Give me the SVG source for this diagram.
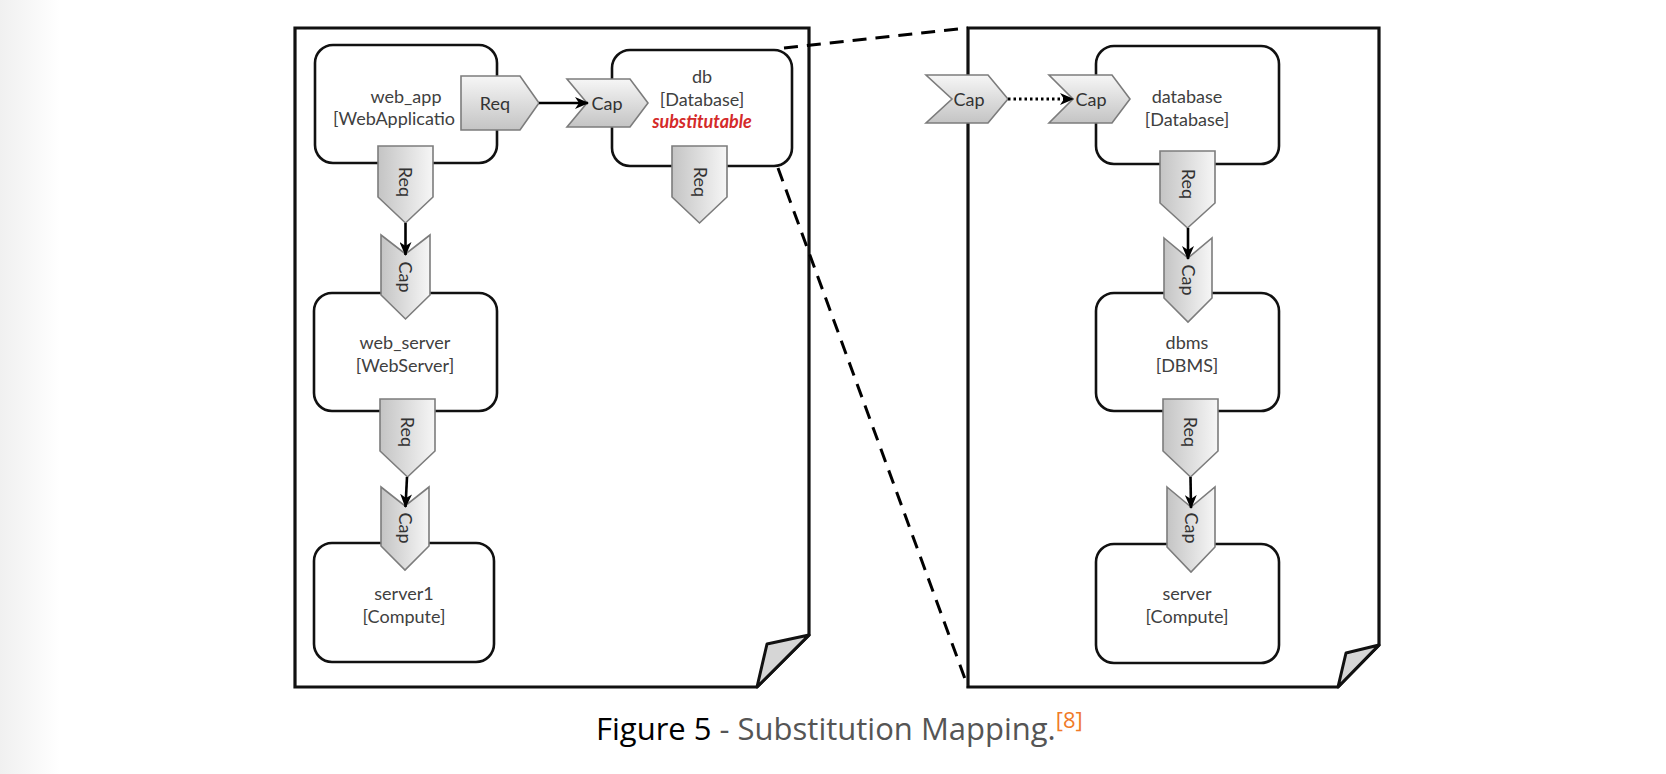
<svg xmlns="http://www.w3.org/2000/svg" width="1666" height="774" viewBox="0 0 1666 774">
<defs>
  <linearGradient id="bg" x1="0" y1="0" x2="1" y2="0">
    <stop offset="0" stop-color="#f0f0f0"/>
    <stop offset="1" stop-color="#ffffff"/>
  </linearGradient>
  <linearGradient id="gh" x1="0" y1="0" x2="0" y2="1">
    <stop offset="0" stop-color="#f6f6f6"/>
    <stop offset="1" stop-color="#c4c4c4"/>
  </linearGradient>
  <linearGradient id="gv" x1="1" y1="0" x2="0" y2="0">
    <stop offset="0" stop-color="#f6f6f6"/>
    <stop offset="1" stop-color="#c4c4c4"/>
  </linearGradient>
  <marker id="ah" viewBox="0 0 14 12" refX="13" refY="6" markerWidth="14" markerHeight="12" markerUnits="userSpaceOnUse" orient="auto">
    <path d="M0,0 L14,6 L0,12 L4,6 z" fill="#000"/>
  </marker>
</defs>
<style>
  .page{fill:#fff;stroke:#111;stroke-width:3.2;stroke-linejoin:miter}
  .flap{fill:#d6d6d6;stroke:#111;stroke-width:3;stroke-linejoin:round}
  .node{fill:#fff;stroke:#111;stroke-width:2.6}
  .ph{fill:url(#gh);stroke:#7c7c7c;stroke-width:1.6}
  .pv{fill:url(#gv);stroke:#7c7c7c;stroke-width:1.6}
  .t{font-family:Lato,"Liberation Sans",sans-serif;font-size:18px;fill:#404040;text-anchor:middle}
  .lbl{font-family:Lato,"Liberation Sans",sans-serif;font-size:18px;fill:#333;text-anchor:middle}
  .sub{fill:#d42a2a;font-weight:bold;font-style:italic}
  .conn{stroke:#000;stroke-width:2.6;fill:none}
  .dot{stroke:#000;stroke-width:2.8;fill:none;stroke-dasharray:2.5 3}
  .dash{stroke:#000;stroke-width:3;stroke-dasharray:14 9;fill:none}
  .cap{font-family:"Open Sans","Liberation Sans",sans-serif;font-size:31px}
</style>
<rect x="0" y="0" width="1666" height="774" fill="#fff"/>
<rect x="0" y="0" width="60" height="774" fill="url(#bg)"/>

<g id="page-left">
  <path class="page" d="M295,28 H809 V635 L757,687 H295 Z"/>
  <path class="flap" d="M809,635 L767,644 L757,687 Z"/>
</g>
<g id="page-right">
  <path class="page" d="M968,28 H1379 V645 L1338,687 H968 Z"/>
  <path class="flap" d="M1379,645 L1346,653 L1338,687 Z"/>
</g>

<g id="mapping-lines">
  <line class="dash" x1="784" y1="48" x2="968" y2="28"/>
  <line class="dash" x1="778" y1="168" x2="968" y2="687"/>
</g>

<g id="web_app">
  <rect class="node" x="315" y="45" width="182" height="118" rx="18"/>
  <text class="t" x="406" y="103">web_app</text>
  <text class="t" x="333" y="125" style="text-anchor:start">[WebApplicatio</text>
  <path class="ph" d="M461,76 H520 L539,103 L520,130 H461 Z"/>
  <text class="lbl" x="495" y="110">Req</text>
  <path class="pv" d="M378,146 H433 V197 L405.5,223 L378,197 Z"/>
  <text class="lbl" transform="translate(405,182) rotate(90)" x="0" y="6">Req</text>
</g>

<g id="db">
  <rect class="node" x="612" y="50" width="180" height="116" rx="18"/>
  <text class="t" x="702" y="83">db</text>
  <text class="t" x="702" y="106">[Database]</text>
  <text class="t sub" x="702" y="128">substitutable</text>
  <path class="ph" d="M567,79 H630 L648,103 L630,127 H567 L587,103 Z"/>
  <text class="lbl" x="607" y="110">Cap</text>
  <path class="pv" d="M672,146 H727 V197 L699.5,223 L672,197 Z"/>
  <text class="lbl" transform="translate(700,182) rotate(90)" x="0" y="6">Req</text>
</g>

<g id="web_server">
  <rect class="node" x="314" y="293" width="183" height="118" rx="18"/>
  <text class="t" x="405" y="349">web_server</text>
  <text class="t" x="405" y="372">[WebServer]</text>
  <path class="pv" d="M381,235 L405.5,254 L430,235 V295 L405.5,319 L381,295 Z"/>
  <text class="lbl" transform="translate(405,277) rotate(90)" x="0" y="6">Cap</text>
  <path class="pv" d="M380,399 H435 V451 L407.5,477 L380,451 Z"/>
  <text class="lbl" transform="translate(407,432) rotate(90)" x="0" y="6">Req</text>
</g>

<g id="server1">
  <rect class="node" x="314" y="543" width="180" height="119" rx="18"/>
  <text class="t" x="404" y="600">server1</text>
  <text class="t" x="404" y="623">[Compute]</text>
  <path class="pv" d="M381,487 L405,506 L429,487 V546 L405,570 L381,546 Z"/>
  <text class="lbl" transform="translate(405,528) rotate(90)" x="0" y="6">Cap</text>
</g>

<g id="database">
  <rect class="node" x="1096" y="46" width="183" height="118" rx="18"/>
  <text class="t" x="1187" y="103">database</text>
  <text class="t" x="1187" y="126">[Database]</text>
  <path class="ph" d="M1049,75 H1112 L1130,99 L1112,123 H1049 L1073,99 Z"/>
  <text class="lbl" x="1091" y="106">Cap</text>
  <path class="pv" d="M1160,151 H1215 V203 L1187.5,228 L1160,203 Z"/>
  <text class="lbl" transform="translate(1188,184) rotate(90)" x="0" y="6">Req</text>
</g>

<g id="substitution-cap">
  <path class="ph" d="M926,75 H988 L1008,99 L988,123 H926 L952,99 Z"/>
  <text class="lbl" x="969" y="106">Cap</text>
</g>

<g id="dbms">
  <rect class="node" x="1096" y="293" width="183" height="118" rx="18"/>
  <text class="t" x="1187" y="349">dbms</text>
  <text class="t" x="1187" y="372">[DBMS]</text>
  <path class="pv" d="M1164,238 L1188,258 L1212,238 V298 L1188,322 L1164,298 Z"/>
  <text class="lbl" transform="translate(1188,280) rotate(90)" x="0" y="6">Cap</text>
  <path class="pv" d="M1163,399 H1218 V451 L1190.5,477 L1163,451 Z"/>
  <text class="lbl" transform="translate(1190,432) rotate(90)" x="0" y="6">Req</text>
</g>

<g id="server">
  <rect class="node" x="1096" y="544" width="183" height="119" rx="18"/>
  <text class="t" x="1187" y="600">server</text>
  <text class="t" x="1187" y="623">[Compute]</text>
  <path class="pv" d="M1167,487 L1191,507 L1215,487 V547 L1191,572 L1167,547 Z"/>
  <text class="lbl" transform="translate(1191,528) rotate(90)" x="0" y="6">Cap</text>
</g>

<g id="connectors">
  <line class="conn" x1="539" y1="103" x2="588" y2="103" marker-end="url(#ah)"/>
  <line class="conn" x1="405.5" y1="223" x2="405.5" y2="255" marker-end="url(#ah)"/>
  <line class="conn" x1="407" y1="477" x2="405.5" y2="507" marker-end="url(#ah)"/>
  <line class="dot" x1="1008" y1="99" x2="1064" y2="99"/>
  <path d="M1060,93 L1074,99 L1060,105 L1064,99 z" fill="#000"/>
  <line class="conn" x1="1188" y1="228" x2="1188" y2="259" marker-end="url(#ah)"/>
  <line class="conn" x1="1190.5" y1="477" x2="1191" y2="508" marker-end="url(#ah)"/>
</g>

<g id="caption">
  <text class="cap" x="596" y="740"><tspan fill="#000">Figure 5</tspan><tspan fill="#555"> - Substitution Mapping.</tspan><tspan fill="#f07a28" font-size="22" dy="-12">[8]</tspan></text>
</g>
</svg>
